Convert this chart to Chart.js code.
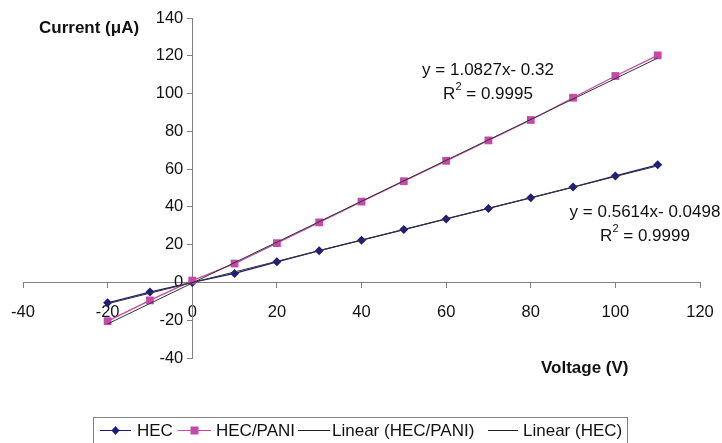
<!DOCTYPE html>
<html>
<head>
<meta charset="utf-8">
<script src="https://cdn.jsdelivr.net/npm/chart.js@4.4.1/dist/chart.umd.min.js"></script>
<style>
  html, body { margin: 0; padding: 0; background: #fff; }
</style>
</head>
<body>
<canvas id="chart" width="722" height="443"></canvas>
<script>
const voltage = [-20, -10, 0, 10, 20, 30, 40, 50, 60, 70, 80, 90, 100, 110];
const hecCurrent = [-10.8, -5.1, 0, 4.8, 10.9, 16.8, 22.4, 28, 33.6, 39.2, 44.8, 50.5, 56.4, 62.3];
const paniCurrent = [-20.5, -9.5, 1.0, 10, 20.8, 31.8, 42.8, 53.6, 64.4, 75.2, 86, 97.8, 109.3, 120.2];
const trendVoltage = [-20, 110];
const trendPani = [-21.97, 118.78];
const trendHec = [-11.28, 61.7];
const seriesNames = ["HEC", "HEC/PANI", "Linear (HEC/PANI)", "Linear (HEC)"];

const FONT = "'Liberation Sans', Arial, sans-serif";
const NAVY = "#1c1c7c";
const PINK = "#c34aa9";
const AXIS = "#808080";

const pts = (xs, ys) => xs.map((x, i) => ({ x, y: ys[i] }));

// labels of a centred axis ignore tick padding, so nudge them away from the line
const shiftLabels = (dx, dy) => (s) => {
    if (s._shifted) return;
    const orig = s.drawLabels.bind(s);
    s.drawLabels = (area) => {
        s.ctx.save();
        s.ctx.translate(dx, dy);
        orig(area);
        s.ctx.restore();
    };
    s._shifted = true;
};

const overlay = {
    id: "overlay",
    afterDraw(chart) {
        const ctx = chart.ctx;
        ctx.save();
        ctx.fillStyle = "#111";
        ctx.textBaseline = "middle";

        // axis titles
        ctx.font = "bold 17px " + FONT;
        ctx.textAlign = "left";
        ctx.fillText("Current (μA)", 39, 28);
        ctx.fillText("Voltage (V)", 541, 368);

        // trendline equations
        const eq = (text, r2, cx, y) => {
            ctx.textAlign = "center";
            ctx.font = "17px " + FONT;
            ctx.fillText(text, cx, y);
            const a = ctx.measureText("R").width;
            const rest = " = " + r2;
            const b = ctx.measureText(rest).width;
            ctx.font = "11px " + FONT;
            const s = ctx.measureText("2").width;
            const x = cx - (a + s + b) / 2;
            ctx.textAlign = "left";
            ctx.font = "17px " + FONT;
            ctx.fillText("R", x, y + 24);
            ctx.font = "11px " + FONT;
            ctx.fillText("2", x + a, y + 17);
            ctx.font = "17px " + FONT;
            ctx.fillText(rest, x + a + s, y + 24);
        };
        eq("y = 1.0827x- 0.32", "0.9995", 488, 70);
        eq("y = 0.5614x- 0.0498", "0.9999", 645, 212);

        // legend
        ctx.strokeStyle = AXIS;
        ctx.lineWidth = 1;
        ctx.strokeRect(93.5, 417.5, 534, 40);
        const ly = 430;
        const item = (x1, x2, color, marker, label, tx) => {
            ctx.strokeStyle = color;
            ctx.lineWidth = 1;
            ctx.beginPath();
            ctx.moveTo(x1, ly + 0.5);
            ctx.lineTo(x2, ly + 0.5);
            ctx.stroke();
            const mx = (x1 + x2) / 2;
            ctx.fillStyle = color;
            if (marker === "diamond") {
                ctx.beginPath();
                ctx.moveTo(mx, ly - 4);
                ctx.lineTo(mx + 4, ly + 0.5);
                ctx.lineTo(mx, ly + 5);
                ctx.lineTo(mx - 4, ly + 0.5);
                ctx.closePath();
                ctx.fill();
            } else if (marker === "square") {
                ctx.fillRect(mx - 4, ly - 3.5, 8, 8);
            }
            ctx.fillStyle = "#111";
            ctx.font = "17px " + FONT;
            ctx.textAlign = "left";
            ctx.fillText(label, tx, ly + 1);
        };
        item(100, 131, NAVY, "diamond", seriesNames[0], 137);
        item(178, 211, PINK, "square", seriesNames[1], 216);
        item(298, 330, "#222", null, seriesNames[2], 332);
        item(488, 518, "#222", null, seriesNames[3], 523);
        ctx.restore();
    }
};

const ctx = document.getElementById("chart").getContext("2d");
const chart = new Chart(ctx, {
    type: "scatter",
    data: {
        datasets: [
            {
                label: seriesNames[2],
                data: pts(trendVoltage, trendPani),
                showLine: true,
                borderColor: "#333",
                borderWidth: 1,
                pointRadius: 0,
                order: 1,
            },
            {
                label: seriesNames[3],
                data: pts(trendVoltage, trendHec),
                showLine: true,
                borderColor: "#333",
                borderWidth: 1,
                pointRadius: 0,
                order: 1,
            },
            {
                label: seriesNames[1],
                data: pts(voltage, paniCurrent),
                showLine: true,
                borderColor: PINK,
                backgroundColor: PINK,
                borderWidth: 1.3,
                pointStyle: "rect",
                pointRadius: 5.5,
                pointBorderWidth: 0,
                order: 2,
            },
            {
                label: seriesNames[0],
                data: pts(voltage, hecCurrent),
                showLine: true,
                borderColor: NAVY,
                backgroundColor: NAVY,
                borderWidth: 1.3,
                pointStyle: "rectRot",
                pointRadius: 4.5,
                pointBorderWidth: 0,
                order: 2,
            },
        ],
    },
    options: {
        responsive: false,
        animation: false,
        devicePixelRatio: 1,
        layout: {
            padding: { left: 23, right: 22, top: 18, bottom: 85 },
        },
        scales: {
            x: {
                type: "linear",
                min: -40,
                max: 120,
                position: { y: 0 },
                afterFit: (s) => { s.height = 0; },
                afterUpdate: shiftLabels(0, 12),
                grid: { display: true, drawOnChartArea: false, drawTicks: true, tickLength: 5, color: AXIS },
                border: { display: true, color: AXIS, width: 1 },
                ticks: { stepSize: 20, autoSkip: false, maxRotation: 0, padding: 3, color: "#111", font: { family: FONT, size: 16.5 } },
            },
            y: {
                type: "linear",
                min: -40,
                max: 140,
                position: { x: 0 },
                afterFit: (s) => { s.width = 0; },
                afterUpdate: shiftLabels(-9, 0),
                grid: { display: true, drawOnChartArea: false, drawTicks: true, tickLength: 5, color: AXIS },
                border: { display: true, color: AXIS, width: 1 },
                ticks: { stepSize: 20, autoSkip: false, padding: 3, color: "#111", font: { family: FONT, size: 16.5 } },
            },
        },
        plugins: {
            legend: { display: false },
            tooltip: { enabled: false },
        },
    },
    plugins: [overlay],
});
</script>
</body>
</html>
